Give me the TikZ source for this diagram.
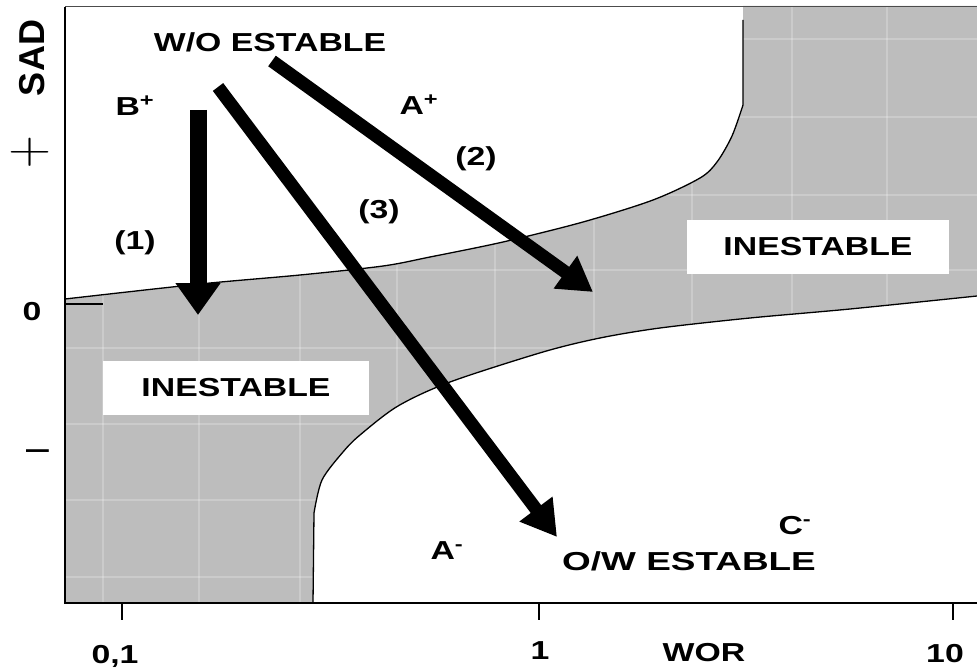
\documentclass[tikz,border=0pt]{standalone}
\usepackage{fontspec}
\newfontfamily\arial{Liberation Sans}
\usetikzlibrary{arrows.meta}
\definecolor{regiongray}{RGB}{189,189,189}
\newcommand\regionpath{(65,603) -- (65,299) -- plot[smooth,tension=0.5] coordinates {(65,299) (200,284) (300,275) (383,266) (430,257) (503,242) (583,222) (653,200) (700,178) (717,162) (732,136) (743,105)} -- (743,6) -- (977,6) -- (977,296) -- plot[smooth,tension=0.5] coordinates {(977,296) (850,309) (750,318) (660,328) (600,338) (543,352) (450,382) (398,406) (360,435) (343,452) (322,480) (314,513)} -- (313,603) -- cycle}
\begin{document}
\begin{tikzpicture}[x=1pt,y=-1pt,
  lbl/.style={font=\arial\bfseries\fontsize{26}{26}\selectfont, inner sep=0pt},
  sign/.style={font=\fontsize{45}{45}\selectfont, inner sep=0pt},
  boxlbl/.style={lbl, fill=white, minimum height=54pt},
  gridline/.style={white, opacity=0.22, line width=1.2pt},
  border/.style={line width=1.3pt},
  bigarrow/.style={line width=#1, line cap=butt}]
\useasboundingbox (0,0) rectangle (977,671);
\fill[white] (0,0) rectangle (977,671);
% shaded region
\fill[regiongray] \regionpath;
\begin{scope}
  \clip \regionpath;
  \foreach \gx in {103,199,300,397,495,594,692,792,887}
    \draw[gridline] (\gx,0) -- (\gx,610);
  \foreach \gy in {39,117,195,270,348,424,500,577}
    \draw[gridline] (60,\gy) -- (980,\gy);
\end{scope}
% region boundaries
\draw[border] plot[smooth,tension=0.5] coordinates {(65,299) (200,284) (300,275) (383,266) (430,257) (503,242) (583,222) (653,200) (700,178) (717,162) (732,136) (743,105)} -- (743,20);
\draw[border] plot[smooth,tension=0.5] coordinates {(977,296) (850,309) (750,318) (660,328) (600,338) (543,352) (450,382) (398,406) (360,435) (343,452) (322,480) (314,513)} -- (313,603);
% frame and axes
\draw[line width=1pt, black!70] (65,7) -- (977,7);
\draw[line width=2pt] (65,7) -- (65,603) -- (977,603);
\draw[line width=2pt] (122,603) -- (122,620);
\draw[line width=2pt] (539,603) -- (539,620);
\draw[line width=2pt] (953,603) -- (953,620);
\draw[line width=1.5pt] (65,304) -- (103,304);
% boxed labels
\node[boxlbl, minimum width=266pt] (inL) at (236,388) {\scalebox{1.3}[1]{INESTABLE}};
\node[boxlbl, minimum width=262pt] (inR) at (818,247) {\scalebox{1.3}[1]{INESTABLE}};
% arrows
\coordinate (a1s) at (198,110);
\coordinate (a1e) at (198,315);
\coordinate (a2s) at (272,61);
\coordinate (a2e) at (593,292);
\coordinate (a3s) at (218,87);
\coordinate (a3e) at (557,537);
\draw[bigarrow=17pt, -{Triangle[width=43pt,length=32pt]}] (a1s) -- (a1e);
\draw[bigarrow=13pt, -{Triangle[width=38pt,length=34pt]}] (a2s) -- (a2e);
\draw[bigarrow=13pt, -{Triangle[width=39pt,length=35pt]}] (a3s) -- (a3e);
% labels
\node[lbl] (wo) at (270,42) {\scalebox{1.3}[1]{W/O ESTABLE}};
\node[lbl] (bp) at (135,106) {\scalebox{1.3}[1]{B\textsuperscript{+}}};
\node[lbl] (ap) at (419,105) {\scalebox{1.3}[1]{A\textsuperscript{+}}};
\node[lbl] (l2) at (476,159) {\scalebox{1.3}[1]{(2)}};
\node[lbl] (l3) at (379,212) {\scalebox{1.3}[1]{(3)}};
\node[lbl] (l1) at (135,243) {\scalebox{1.3}[1]{(1)}};
\node[lbl] (am) at (447,551) {\scalebox{1.3}[1]{A\textsuperscript{-}}};
\node[lbl] (ow) at (689,561) {\scalebox{1.42}[1]{O/W ESTABLE}};
\node[lbl] (cm) at (795,526) {\scalebox{1.3}[1]{C\textsuperscript{-}}};
% axis labels
\node[lbl] (y0) at (32,312) {\scalebox{1.3}[1]{0}};
\node[lbl] (x01) at (115,656) {\scalebox{1.3}[1]{0,1}};
\node[lbl] (x1) at (540,651) {\scalebox{1.3}[1]{1}};
\node[lbl] (wor) at (704,653) {\scalebox{1.3}[1]{WOR}};
\node[lbl] (x10) at (945,654) {\scalebox{1.3}[1]{10}};
\node[lbl, font=\arial\bfseries\fontsize{36}{36}\selectfont] (sad) at (32,58) {\rotatebox{90}{SAD}};
\node[sign] (plus) at (30,152) {\scalebox{1.33}[1]{+}};
\node[inner sep=0pt, font=\arial\fontsize{41}{41}\selectfont] (minus) at (38,456) {–};
\end{tikzpicture}
\end{document}
